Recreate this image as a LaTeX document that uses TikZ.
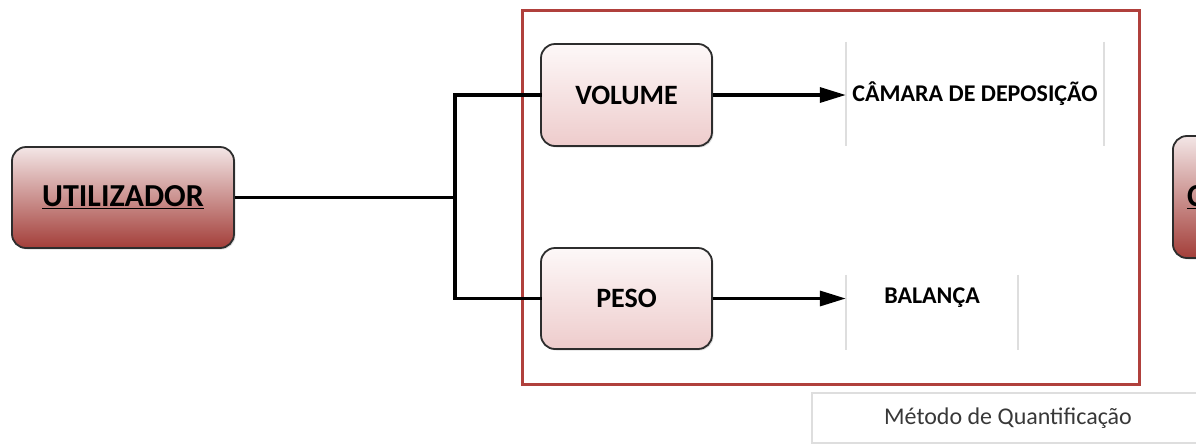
\documentclass[tikz,border=0pt]{standalone}
\usepackage{fontspec}
\setmainfont{Carlito}
\usetikzlibrary{arrows.meta,shadows}
\definecolor{framered}{RGB}{176,64,60}
\definecolor{darktop}{RGB}{243,230,230}
\definecolor{darkbot}{RGB}{163,62,57}
\definecolor{lighttop}{RGB}{253,248,248}
\definecolor{lightbot}{RGB}{238,204,204}
\definecolor{paleline}{RGB}{222,222,222}
\definecolor{boxedge}{RGB}{45,45,45}
\tikzset{
  darkbox/.style={draw=boxedge, line width=1.8pt, rounded corners=14pt,
    top color=darktop, bottom color=darkbot, inner sep=0pt,
    drop shadow={opacity=0.25, shadow xshift=1.5pt, shadow yshift=-1.5pt}},
  lightbox/.style={draw=boxedge, line width=1.8pt, rounded corners=14pt,
    top color=lighttop, bottom color=lightbot, inner sep=0pt,
    drop shadow={opacity=0.25, shadow xshift=1.5pt, shadow yshift=-1.5pt}},
  wire/.style={line width=3.3pt, black},
  arrowwire/.style={wire, -{Triangle[length=26pt,width=15pt]}},
  paleedge/.style={paleline, line width=1.5pt},
  bigfont/.style={font=\bfseries\fontsize{32}{36}\selectfont},
  midfont/.style={font=\bfseries\fontsize{28}{32}\selectfont},
  smallfont/.style={font=\bfseries\fontsize{24}{28}\selectfont},
}
\begin{document}
\begin{tikzpicture}[x=1pt,y=-1pt]
\useasboundingbox (0,0) rectangle (1196,445);
\clip (0,0) rectangle (1196,445);

% user box
\node[darkbox, minimum width=222pt, minimum height=101pt, bigfont] (user) at (123,197.5)
      {\underline{UTILIZADOR}};

% box continuing past the right edge
\node[darkbox, minimum width=120pt, minimum height=122pt, anchor=west] (next) at (1172,197) {};
\node[anchor=west, inner sep=0pt, bigfont] (nextlabel) at (1187,197) {\underline{C}};

% quantification frame
\draw[framered, line width=3pt] (522,10) rectangle (1139,384);

% method boxes
\node[lightbox, minimum width=171pt, minimum height=102pt, midfont] (vol) at (626.5,95) {VOLUME};
\node[lightbox, minimum width=171pt, minimum height=101pt, midfont] (peso) at (626.5,298.5) {PESO};

% instrument labels
\node[minimum width=258pt, minimum height=104pt, inner sep=0pt, smallfont] (camara) at (975,94) {CÂMARA DE DEPOSIÇÃO};
\node[minimum width=172pt, minimum height=75pt, inner sep=0pt] (balanca) at (932,312.5) {};
\node[inner sep=0pt, smallfont] (balancatext) at (932,298) {BALANÇA};
\draw[paleedge] (camara.north west) -- (camara.south west);
\draw[paleedge] (camara.north east) -- (camara.south east);
\draw[paleedge] (balanca.north west) -- (balanca.south west);
\draw[paleedge] (balanca.north east) -- (balanca.south east);

% connectors
\coordinate (junction) at (455,197.5);
\draw[wire] (user.east) -- (junction);
\draw[wire, line cap=rect] (junction) |- (vol.west);
\draw[wire, line cap=rect] (junction) |- (peso.west);
\draw[arrowwire] (vol.east) -- (camara.west |- vol.east);
\draw[arrowwire] (peso.east) -- (balanca.west |- peso.east);

% caption box
\draw[paleline, line width=1.5pt] (812,393) rectangle (1210,443);
\node[font=\fontsize{24}{28}\selectfont, text=black!78] (caption) at (1008,418) {Método de Quantificação};
\end{tikzpicture}
\end{document}
